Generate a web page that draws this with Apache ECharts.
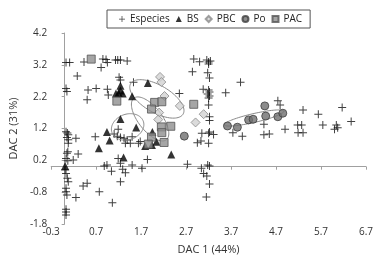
<!DOCTYPE html>
<html>
<head>
<meta charset="utf-8">
<script src="https://cdn.jsdelivr.net/npm/echarts@6/dist/echarts.min.js"></script>
<style>html,body{margin:0;padding:0;background:#fff}#c{width:377px;height:262px}</style>
</head>
<body>
<div id="c"></div>
<script>
const xTicks = [-0.3, 0.7, 1.7, 2.7, 3.7, 4.7, 5.7, 6.7];
const yTicks = [-1.8, -0.8, 0.2, 1.2, 2.2, 3.2, 4.2];
const xName = 'DAC 1 (44%)';
const yName = 'DAC 2 (31%)';
const legendNames = ['Especies', 'BS', 'PBC', 'Po', 'PAC'];

const especies = [
  [0.03,3.27],[0.11,3.27],[0.43,3.29],[0.85,3.38],[0.92,3.37],[0.81,3.12],[0.95,3.27],[1.13,3.35],[1.18,3.35],[1.24,3.35],
  [1.39,3.32],[0.28,2.85],[0.03,2.46],[0.05,2.36],[0.52,2.41],[0.70,2.46],[0.95,2.43],[0.97,2.25],[0.50,2.10],[1.21,2.81],
  [1.24,2.72],[1.53,2.65],[2.87,3.38],[3.00,3.30],[3.16,3.35],[3.20,3.29],[3.24,3.32],[3.20,3.23],[2.84,2.98],[3.18,2.95],
  [3.22,2.79],[3.91,2.65],[3.08,2.43],[3.20,2.41],[3.22,2.35],[3.18,2.28],[3.22,2.22],[3.20,2.16],[3.58,2.32],[2.55,2.30],
  [3.20,1.94],[3.22,1.57],[3.22,1.45],[3.05,1.05],[3.20,1.05],[3.22,1.09],[3.31,1.01],[2.95,0.75],[3.03,0.81],[3.20,0.74],
  [3.74,1.07],[3.95,0.96],[4.43,1.33],[4.43,1.00],[4.55,1.03],[4.74,2.07],[4.79,1.94],[4.90,1.18],[5.30,1.78],[5.18,1.31],
  [5.27,1.31],[5.19,1.07],[5.30,1.07],[5.64,1.65],[5.74,1.31],[6.04,1.31],[6.07,1.22],[6.00,1.18],[6.17,1.86],[6.37,1.42],
  [0.03,1.10],[0.06,1.06],[0.08,1.00],[0.05,0.92],[0.08,0.85],[0.08,0.74],[0.07,0.47],[0.05,0.42],[0.03,0.26],[0.07,0.19],
  [0.01,-0.10],[0.03,-0.21],[0.06,-0.36],[0.08,-0.47],[0.03,-0.68],[0.03,-0.79],[0.05,-0.89],[0.03,-1.34],[0.03,-1.42],[0.03,-1.52],
  [0.30,0.40],[0.19,0.21],[0.25,0.89],[0.68,0.94],[1.10,1.03],[1.17,0.96],[1.24,0.92],[1.32,0.89],[1.39,0.84],[1.46,0.74],
  [1.64,0.74],[1.19,1.18],[1.19,0.26],[1.24,0.11],[1.29,-0.08],[1.35,-0.19],[1.24,-0.47],[1.50,0.05],[1.72,-0.05],[0.88,0.02],
  [0.94,0.05],[1.04,-0.14],[0.41,-0.61],[0.50,-0.52],[0.77,-0.79],[0.25,-0.97],[1.06,-1.13],[1.84,0.23],[2.73,0.08],[3.04,-0.05],
  [3.18,0.05],[3.22,0.02],[3.09,-0.21],[3.16,-0.29],[3.22,-0.54],[3.15,-0.95],[1.50,0.94],[1.68,0.79],[1.35,0.74]
];
const bs = [
  [1.85,2.63],[1.24,2.54],[1.14,2.30],[1.20,2.32],[1.29,2.30],[1.24,2.39],[1.50,2.21],[1.24,1.50],[1.59,1.23],[0.94,1.09],
  [1.00,0.82],[0.76,0.58],[1.31,0.29],[1.79,0.65],[1.94,0.68],[2.04,0.78],[2.37,0.38],[1.95,1.09],[0.01,0.02]
];
const pbc = [[2.12,2.82],[2.15,2.66],[2.22,2.22],[2.56,1.91],[2.10,1.70],[2.08,1.48],[3.09,1.65],[2.91,1.39]];
const po = [[2.66,0.96],[3.62,1.28],[3.84,1.24],[4.09,1.47],[4.19,1.49],[4.45,1.91],[4.47,1.59],[4.74,1.57],[4.85,1.68]];
const pac = [[0.59,3.38],[1.16,2.06],[2.00,2.02],[2.16,2.04],[1.93,1.81],[2.87,1.96],[2.15,1.25],[2.36,1.27],[2.16,1.07],[1.93,0.93],[1.86,0.71],[2.21,0.76]];

// ellipses: centre (data), semi-axes (x-axis units), rotation (deg, screen, ccw)
const ellipseCx = [2.05, 1.90, 1.40, 4.21];
const ellipseCy = [2.13, 1.50, 1.25, 1.53];
const ellipseA = [0.674, 0.587, 0.370, 0.680];
const ellipseB = [0.304, 0.261, 0.283, 0.098];
const ellipseAng = [-30, -52, 20, 12.9];

const FONT = 'Open Sans';
const plus = 'path://M3.5,0h1v3.5h3.5v1h-3.5v3.5h-1v-3.5h-3.5v-1h3.5z';

const chart = echarts.init(document.getElementById('c'), null, {renderer: 'canvas'});
const fmt = v => Number(v).toFixed(1);
chart.setOption({
  animation: false,
  backgroundColor: '#fff',
  textStyle: {fontFamily: FONT},
  grid: {left: 44, right: 11, top: 33, bottom: 38, containLabel: false},
  legend: {
    data: legendNames,
    left: 107, top: 10,
    padding: [4, 8, 4, 12],
    borderColor: '#555', borderWidth: 1,
    itemWidth: 6, itemHeight: 6, itemGap: 6,
    textStyle: {fontFamily: FONT, fontSize: 10, color: '#222'}
  },
  xAxis: {
    type: 'value', min: -0.3, max: 6.7,
    name: xName, nameLocation: 'middle', nameGap: 20,
    nameTextStyle: {fontFamily: FONT, fontSize: 11, color: '#333'},
    axisLine: {show: true, lineStyle: {color: '#a0a0a0', width: 1}},
    axisTick: {show: true, length: 3, lineStyle: {color: '#a0a0a0'}, customValues: xTicks},
    axisLabel: {fontFamily: FONT, fontSize: 10, color: '#333', margin: 3, customValues: xTicks, formatter: fmt},
    splitLine: {show: false}
  },
  yAxis: {
    type: 'value', min: -1.8, max: 4.2,
    name: yName, nameLocation: 'middle', nameGap: 23,
    nameTextStyle: {fontFamily: FONT, fontSize: 11, color: '#333'},
    axisLine: {show: true, lineStyle: {color: '#a0a0a0', width: 1}},
    axisTick: {show: true, length: 3, lineStyle: {color: '#a0a0a0'}, customValues: yTicks},
    axisLabel: {fontFamily: FONT, fontSize: 10, color: '#333', margin: 4, customValues: yTicks, formatter: fmt},
    splitLine: {show: false}
  },
  series: [
    {name: 'Especies', type: 'scatter', data: especies, symbol: plus, symbolSize: 8,
     itemStyle: {color: '#111'}, z: 2},
    {name: 'ellipses', type: 'custom', silent: true, z: 3,
     data: ellipseCx.map((cx, i) => [cx, ellipseCy[i], i]),
     encode: {x: 0, y: 1},
     renderItem: function (params, api) {
       const i = api.value(2);
       const c = api.coord([api.value(0), api.value(1)]);
       const ux = api.size([1, 1])[0];
       const a = ellipseA[i] * ux, b = ellipseB[i] * ux;
       const t = ellipseAng[i] * Math.PI / 180;
       const pts = [];
       for (let k = 0; k < 90; k++) {
         const s = k / 90 * 2 * Math.PI;
         const x = a * Math.cos(s), y = b * Math.sin(s);
         pts.push([c[0] + x * Math.cos(t) + y * Math.sin(t), c[1] - x * Math.sin(t) + y * Math.cos(t)]);
       }
       return {type: 'polygon', shape: {points: pts}, style: {fill: 'none', stroke: '#8a8a8a', lineWidth: 1}};
     }
    },
    {name: 'BS', type: 'scatter', data: bs, symbol: 'triangle', symbolSize: 8,
     itemStyle: {color: '#000'}, z: 4},
    {name: 'PBC', type: 'scatter', data: pbc, symbol: 'diamond', symbolSize: 9,
     itemStyle: {color: '#d2d2d2', borderColor: '#8a8a8a', borderWidth: 1}, z: 4},
    {name: 'Po', type: 'scatter', data: po, symbol: 'circle', symbolSize: 8,
     itemStyle: {color: '#6f6f6f', borderColor: '#3f3f3f', borderWidth: 1}, z: 4},
    {name: 'PAC', type: 'scatter', data: pac, symbol: 'rect', symbolSize: 8,
     itemStyle: {color: '#8e8e8e', borderColor: '#555', borderWidth: 1}, z: 4}
  ]
});
</script>
</body>
</html>
